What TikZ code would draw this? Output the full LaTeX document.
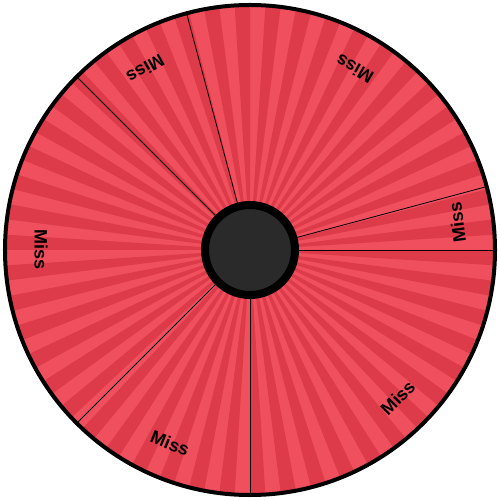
\documentclass[tikz,border=0pt]{standalone}
\usepackage{fontspec}
\newfontfamily\wheelfont{Liberation Sans}
\definecolor{lightred}{RGB}{240,80,94}
\definecolor{darkred}{RGB}{221,58,74}
\definecolor{hubgray}{RGB}{42,42,42}
\tikzset{
  divider/.style={black, line width=0.8pt},
  label/.style={font=\wheelfont\bfseries\fontsize{18}{18}\selectfont, text=black, inner sep=0pt},
}
\begin{document}
\begin{tikzpicture}[x=1pt,y=1pt]
\useasboundingbox (-250,-250) rectangle (250,250);
\coordinate (c) at (0,0);
% stripes
\begin{scope}
\clip (c) circle (245);
\fill[lightred] (c) circle (246);
\foreach \k in {0,...,49} {
  \pgfmathsetmacro{\a}{(2*\k+1)*3.6}
  \pgfmathsetmacro{\b}{(2*\k+2)*3.6}
  \fill[darkred] (c) -- (\a:260) arc[start angle=\a, end angle=\b, radius=260] -- cycle;
}
\end{scope}
% dividers
\foreach \ang [count=\i] in {0,15,105,135,225,270} {
  \coordinate (e\i) at (\ang:245);
  \draw[divider] (c) -- (e\i);
}
% labels
\foreach \ang [count=\i] in {7.5,60,120,180,247.5,315} {
  \node[label, rotate=\ang+90] (m\i) at (\ang:209) {Miss};
}
% border
\draw[black, line width=4pt] (c) circle (245);
% hub
\node[circle, draw=black, line width=8pt, fill=hubgray, minimum size=90pt, inner sep=0pt] (hub) at (c) {};
\end{tikzpicture}
\end{document}
